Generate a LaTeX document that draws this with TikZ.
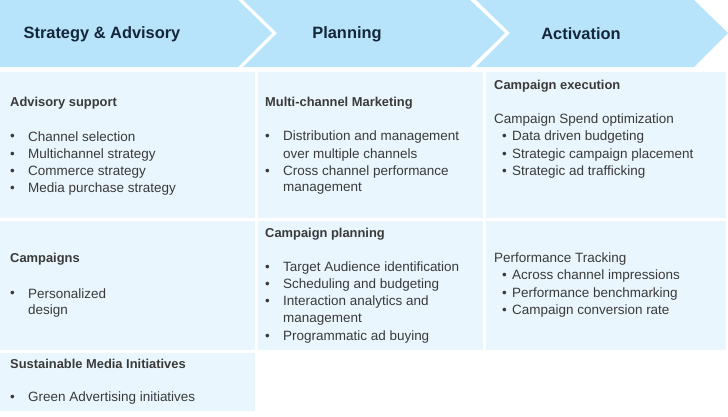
\documentclass[tikz,border=0pt]{standalone}
\usepackage{fontspec}
\setmainfont{Liberation Sans}
\usetikzlibrary{positioning}
\definecolor{chev}{HTML}{B7E4FB}
\definecolor{cell}{HTML}{EAF6FE}
\definecolor{ink}{HTML}{3A3A3A}
\definecolor{head}{HTML}{15263A}
\tikzset{
	hd/.style={font=\fontsize{14}{16}\selectfont\bfseries, text=head},
	ti/.style={anchor=west, inner sep=0pt, font=\fontsize{11}{13}\selectfont\bfseries, text=ink},
	tx/.style={anchor=west, inner sep=0pt, font=\fontsize{11.5}{13}\selectfont, text=ink},
}
\begin{document}
\begin{tikzpicture}[x=0.03cm, y=-0.03cm]
	\useasboundingbox (0,0) rectangle (728,416);
	% chevrons
	\fill[chev] (0,0) -- (238,0) -- (272,33) -- (238,67) -- (0,67) -- cycle;
	\fill[chev] (243,0) -- (470,0) -- (505,33) -- (470,67) -- (243,67) -- (277,33) -- cycle;
	\fill[chev] (476,0) -- (694,0) -- (728,33) -- (694,67) -- (476,67) -- (510,33) -- cycle;
	\node[hd] (strat) at (102,34) {Strategy \& Advisory};
	\node[hd] (plan) at (347,34) {Planning};
	\node[hd] (act) at (581,34) {Activation};

	% cells
	\foreach \xa/\xb/\ya/\yb in {0/255/72/218, 258/483/72/218, 486/726/72/218,
		0/255/221/350, 258/483/221/350, 486/726/221/350, 0/255/353/411} {
		\fill[cell] (\xa,\ya) rectangle (\xb,\yb);
	};

	% titles
	\node[ti] (advt) at (10,103) {Advisory support};
	\node[ti] (mult) at (265,103) {Multi-channel Marketing};
	\node[ti] (exet) at (494,86) {Campaign execution};
	\node[ti] (camt) at (10,259) {Campaigns};
	\node[ti] (cplt) at (265,234) {Campaign planning};
	\node[ti] (sust) at (10,364) {Sustainable Media Initiatives};
	\node[tx] (spend) at (494,120) {Campaign Spend optimization};
	\node[tx] (perf) at (494,259) {Performance Tracking};

	% bullets
	\foreach \bx/\lx/\y/\t [count=\i] in {
		10/28/137/Channel selection, 10/28/155/Multichannel strategy, 10/28/172/Commerce strategy,
		10/28/189/Media purchase strategy,
		265/283/137/Distribution and management, 265/283/172/Cross channel performance,
		502/512/137/Data driven budgeting, 502/512/155/Strategic campaign placement,
		502/512/172/Strategic ad trafficking,
		10/28/294/Personalized/general campaign,
		265/283/268/Target Audience identification, 265/283/285/Scheduling and budgeting,
		265/283/302/Interaction analytics and, 265/283/337/Programmatic ad buying,
		502/512/276/Across channel impressions, 502/512/294/Performance benchmarking,
		502/512/311/Campaign conversion rate,
		10/28/398/Green Advertising initiatives} {
		\node[tx] (bul\i) at (\bx,\y) {•};
		\node[tx] (itm\i) at (\lx,\y) {\t};
	};

	% continued lines
	\node[tx] (cont1) at (283,155) {over multiple channels};
	\node[tx] (cont2) at (283,189) {management};
	\node[tx] (cont3) at (28,311) {design};
	\node[tx] (cont4) at (283,320) {management};
\end{tikzpicture}
\end{document}
